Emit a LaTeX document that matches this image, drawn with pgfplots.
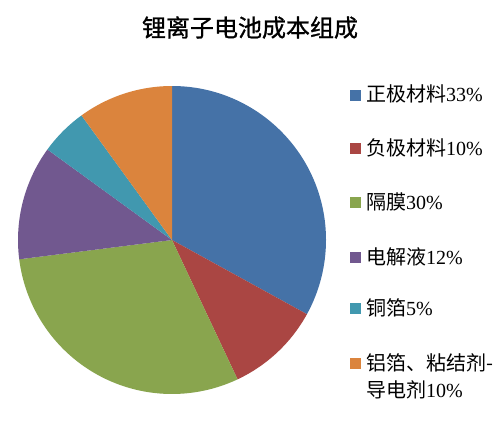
\documentclass[border=0pt]{standalone}
\usepackage{fontspec}
\setmainfont{Liberation Serif}
\newfontfamily\cjk{Noto Sans CJK SC}
\newfontfamily\cjkt{Noto Sans CJK SC}[FakeBold=1]
\usepackage{pgfplots}
\usepackage{pgfplotstable}
\pgfplotsset{compat=1.18}
\definecolor{pc0}{HTML}{4572A7}
\definecolor{pc1}{HTML}{AA4643}
\definecolor{pc2}{HTML}{89A54E}
\definecolor{pc3}{HTML}{71588F}
\definecolor{pc4}{HTML}{4198AF}
\definecolor{pc5}{HTML}{DB843D}
\pgfplotstableread{
id value
0 33
1 10
2 30
3 12
4 5
5 10
}\piedata
\begin{document}
\begin{tikzpicture}
\begin{axis}[
  width=502pt, height=440pt, scale only axis,
  xmin=0, xmax=502, ymin=0, ymax=440,
  hide axis, clip=false,
]
\path (axis cs:0,0) rectangle (axis cs:502,440);
\xdef\cum{0}
\pgfplotsinvokeforeach{0,...,5}{%
  \pgfplotstablegetelem{#1}{value}\of\piedata
  \let\v\pgfplotsretval
  \pgfmathsetmacro\a{90-3.6*\cum}
  \pgfmathsetmacro\tmp{\cum+\v}
  \xdef\cum{\tmp}
  \pgfmathsetmacro\b{90-3.6*\cum}
  \edef\temp{\noexpand\fill[pc#1] (axis cs:172,200) -- ++(\a:154pt) arc[start angle=\a, end angle=\b, radius=154pt] -- cycle;}
  \temp
}
\node[font=\fontsize{24}{28}\selectfont\cjkt] at (axis cs:250,412.5) {锂离子电池成本组成};
% legend
\fill[pc0] (axis cs:350,339.5) rectangle (axis cs:361,350.5);
\fill[pc1] (axis cs:350,286.5) rectangle (axis cs:361,297.5);
\fill[pc2] (axis cs:350,232.5) rectangle (axis cs:361,243.5);
\fill[pc3] (axis cs:350,177.5) rectangle (axis cs:361,188.5);
\fill[pc4] (axis cs:350,126.5) rectangle (axis cs:361,137.5);
\fill[pc5] (axis cs:350,71.5) rectangle (axis cs:361,82.5);
\tikzset{lg/.style={anchor=base west, inner sep=0pt, font=\fontsize{20}{27}\selectfont}}
\node[lg] at (axis cs:366,338) {{\cjk 正极材料}33\%};
\node[lg] at (axis cs:366,285) {{\cjk 负极材料}10\%};
\node[lg] at (axis cs:366,231) {{\cjk 隔膜}30\%};
\node[lg] at (axis cs:366,176) {{\cjk 电解液}12\%};
\node[lg] at (axis cs:366,125) {{\cjk 铜箔}5\%};
\node[lg, text width=134pt, align=left] at (axis cs:366,70) {{\cjk 铝箔、粘结剂-}\\{\cjk 导电剂}10\%};
\end{axis}
\end{tikzpicture}
\end{document}
